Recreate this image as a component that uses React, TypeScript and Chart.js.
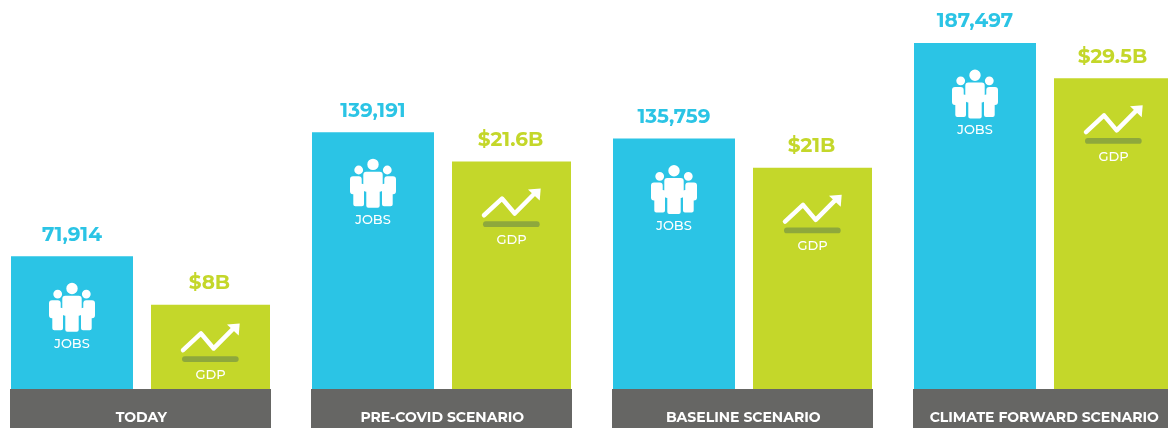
import React, { useEffect, useRef } from "react";
import { Chart, registerables } from "chart.js";

Chart.register(...registerables);

const categories = ["TODAY", "PRE-COVID SCENARIO", "BASELINE SCENARIO", "CLIMATE FORWARD SCENARIO"];
const jobs = [71914, 139191, 135759, 187497];
const gdp = [8, 21.6, 21, 29.5];

const BLUE = "#2BC4E5";
const GREEN = "#C4D72A";
const BAND = "#666664";
const UNDERLINE = "#8EA83C";
const FONT = "Montserrat, Lato, 'Open Sans', sans-serif";

function peoplePath(): Path2D {
  const p = new Path2D();
  const circle = (x: number, y: number, r: number) => {
    p.moveTo(x + r, y);
    p.arc(x, y, r, 0, Math.PI * 2);
  };
  circle(0, 5.7, 5.7);
  circle(-14.3, 11.3, 4.4);
  circle(14.3, 11.3, 4.4);
  p.roundRect(-9.7, 13, 19.4, 20, 3);
  p.roundRect(-6.7, 25, 13.4, 24, 2);
  p.roundRect(-23, 17.5, 11.7, 18, 3);
  p.roundRect(-19.7, 25, 10.7, 22.5, 2);
  p.roundRect(11.3, 17.5, 11.7, 18, 3);
  p.roundRect(9, 25, 10.7, 22.5, 2);
  return p;
}

const barLabelsAndIcons = {
  id: "barLabelsAndIcons",
  beforeDraw(chart: any) {
    const { ctx, scales } = chart;
    ctx.save();
    ctx.fillStyle = BAND;
    categories.forEach((_, i) => {
      const c = scales.x.getPixelForValue(i);
      ctx.fillRect(Math.round(c - 131.25), chart.chartArea.bottom, 261, 39);
    });
    ctx.restore();
  },
  afterDatasetsDraw(chart: any) {
    const { ctx } = chart;
    const people = peoplePath();
    ctx.save();
    ctx.textAlign = "center";
    ctx.textBaseline = "middle";

    chart.getDatasetMeta(0).data.forEach((bar: any, i: number) => {
      ctx.fillStyle = BLUE;
      ctx.font = `700 20px ${FONT}`;
      ctx.fillText(jobs[i].toLocaleString("en-US"), bar.x, bar.y - 21.5);
      ctx.save();
      ctx.translate(bar.x, bar.y + 26.5);
      ctx.fillStyle = "#fff";
      ctx.fill(people);
      ctx.restore();
      ctx.fillStyle = "#fff";
      ctx.font = `500 13px ${FONT}`;
      ctx.fillText("JOBS", bar.x, bar.y + 87.5);
    });

    chart.getDatasetMeta(1).data.forEach((bar: any, i: number) => {
      ctx.fillStyle = GREEN;
      ctx.font = `700 20px ${FONT}`;
      ctx.fillText(`$${gdp[i]}B`, bar.x - 1, bar.y - 21.5);
      const height = bar.base - bar.y;
      const top = bar.y + (height < 100 ? 18.7 : 27);
      ctx.save();
      ctx.translate(bar.x, top);
      ctx.strokeStyle = "#fff";
      ctx.lineWidth = 4.5;
      ctx.lineCap = "round";
      ctx.lineJoin = "round";
      ctx.beginPath();
      ctx.moveTo(-27.5, 26.7);
      ctx.lineTo(-9.5, 10);
      ctx.lineTo(3.2, 25);
      ctx.lineTo(24, 4);
      ctx.stroke();
      ctx.fillStyle = "#fff";
      ctx.beginPath();
      ctx.moveTo(16.5, 1);
      ctx.lineTo(29.2, 0);
      ctx.lineTo(28.2, 12);
      ctx.closePath();
      ctx.fill();
      ctx.fillStyle = UNDERLINE;
      ctx.beginPath();
      ctx.roundRect(-28.5, 32.7, 56.7, 5.8, 2.9);
      ctx.fill();
      ctx.fillStyle = "#fff";
      ctx.font = `500 13px ${FONT}`;
      ctx.fillText("GDP", bar.x - bar.x, 51.7);
      ctx.restore();
    });
    ctx.restore();
  },
};

export default function App() {
  const ref = useRef<HTMLCanvasElement | null>(null);
  useEffect(() => {
    const chart = new Chart(ref.current as HTMLCanvasElement, {
      type: "bar",
      data: {
        labels: categories,
        datasets: [
          { label: "Jobs", data: jobs, yAxisID: "y", backgroundColor: BLUE, categoryPercentage: 277 / 301, barPercentage: 122 / 138.5 },
          { label: "GDP", data: gdp, yAxisID: "y1", backgroundColor: GREEN, categoryPercentage: 277 / 301, barPercentage: 119 / 138.5 },
        ],
      },
      options: {
        animation: false,
        responsive: false,
        layout: { padding: { left: 0.75, right: 1.25, top: 0, bottom: 0 } },
        plugins: { legend: { display: false }, tooltip: { enabled: false } },
        scales: {
          x: {
            grid: { display: false },
            border: { display: false },
            afterFit(axis: any) {
              axis.height = 39;
            },
            ticks: {
              autoSkip: false,
              maxRotation: 0,
              minRotation: 0,
              padding: 12,
              color: "#fff",
              font: { family: FONT, size: 14, weight: "700" },
            },
          },
          y: { display: false, min: 0, max: 210838 },
          y1: { display: false, min: 0, max: 36.94 },
        },
      } as any,
      plugins: [barLabelsAndIcons],
    });
    return () => chart.destroy();
  }, []);
  return (
    <div style={{ position: "absolute", left: 0, top: 0, width: 1168, height: 428, overflow: "hidden", background: "#fff" }}>
      <canvas ref={ref} width={1206} height={428} style={{ position: "absolute", left: -10, top: 0, display: "block" }} />
    </div>
  );
}
